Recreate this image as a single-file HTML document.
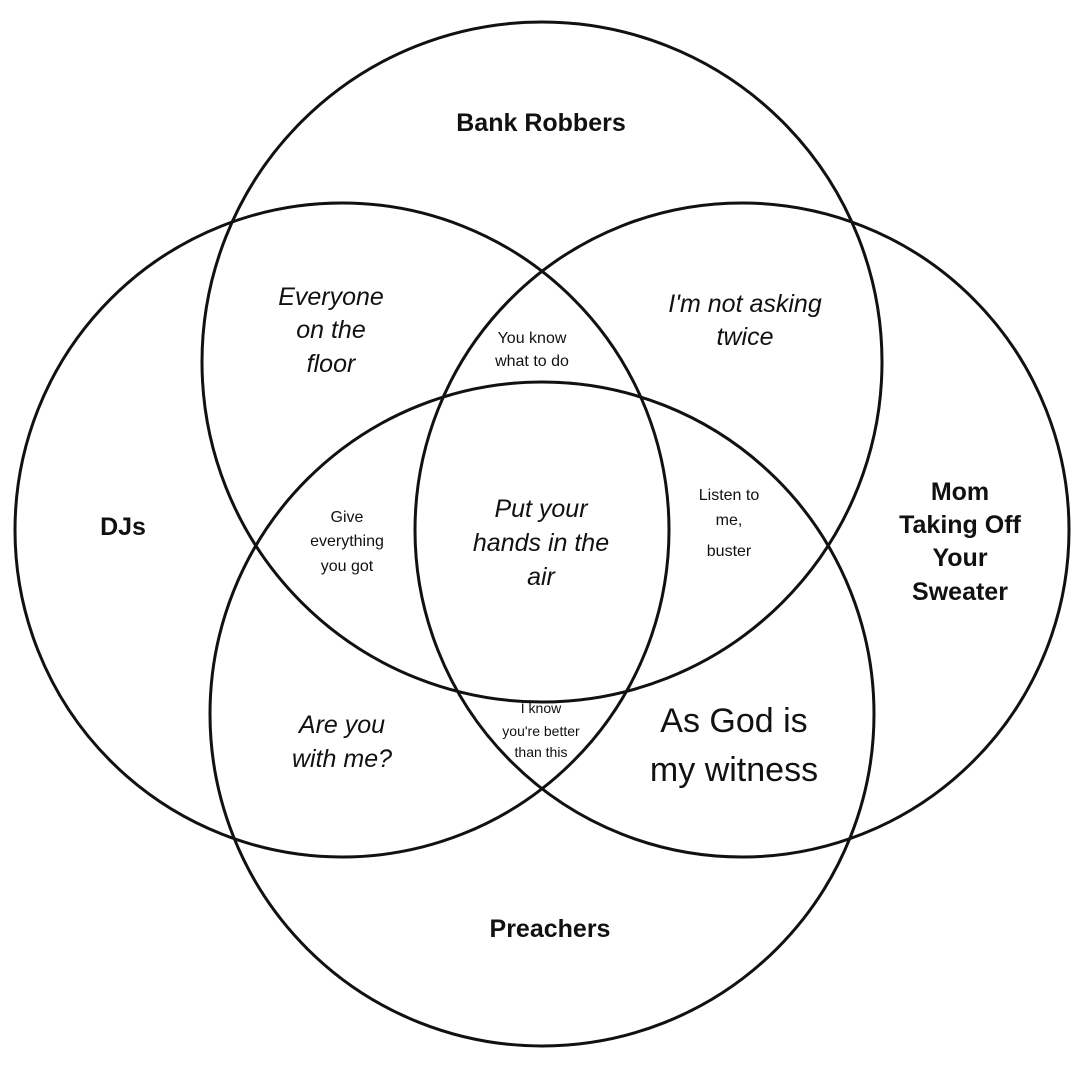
<!DOCTYPE html>
<html><head><style>
html,body{margin:0;padding:0;background:#fff;}
svg{display:block;}
text{font-family:"Liberation Sans",sans-serif;fill:#111;text-anchor:middle;}
.b{font-weight:bold;font-size:25px;}
.m{font-size:25px;font-style:italic;}
.s{font-size:16px;}
</style></head><body>
<svg width="1080" height="1066" viewBox="0 0 1080 1066">
<rect width="1080" height="1066" fill="#fff"/>
<g fill="none" stroke="#111" stroke-width="3">
<circle cx="542" cy="362" r="340"/>
<circle cx="342" cy="530" r="327"/>
<circle cx="742" cy="530" r="327"/>
<circle cx="542" cy="714" r="332"/>
</g>
<text class="b" x="541" y="131">Bank Robbers</text>
<text class="b" x="123" y="535">DJs</text>
<text class="b" x="960" y="500">Mom</text>
<text class="b" x="960" y="533">Taking Off</text>
<text class="b" x="960" y="566">Your</text>
<text class="b" x="960" y="600">Sweater</text>
<text class="b" x="550" y="937">Preachers</text>
<text class="m" x="331" y="305">Everyone</text>
<text class="m" x="331" y="338">on the</text>
<text class="m" x="331" y="372">floor</text>
<text class="m" x="745" y="312">I'm not asking</text>
<text class="m" x="745" y="345">twice</text>
<text class="s" x="532" y="343">You know</text>
<text class="s" x="532" y="366">what to do</text>
<text class="s" x="347" y="522">Give</text>
<text class="s" x="347" y="546">everything</text>
<text class="s" x="347" y="571">you got</text>
<text class="m" x="541" y="517">Put your</text>
<text class="m" x="541" y="551">hands in the</text>
<text class="m" x="541" y="585">air</text>
<text class="s" x="729" y="500">Listen to</text>
<text class="s" x="729" y="525">me,</text>
<text class="s" x="729" y="556">buster</text>
<text class="m" x="342" y="733">Are you</text>
<text class="m" x="342" y="767">with me?</text>
<text class="s" x="541" y="713" style="font-size:14px">I know</text>
<text class="s" x="541" y="736" style="font-size:14px">you're better</text>
<text class="s" x="541" y="757" style="font-size:14px">than this</text>
<text x="734" y="732" style="font-size:34px">As God is</text>
<text x="734" y="781" style="font-size:34px">my witness</text>
</svg>
</body></html>
